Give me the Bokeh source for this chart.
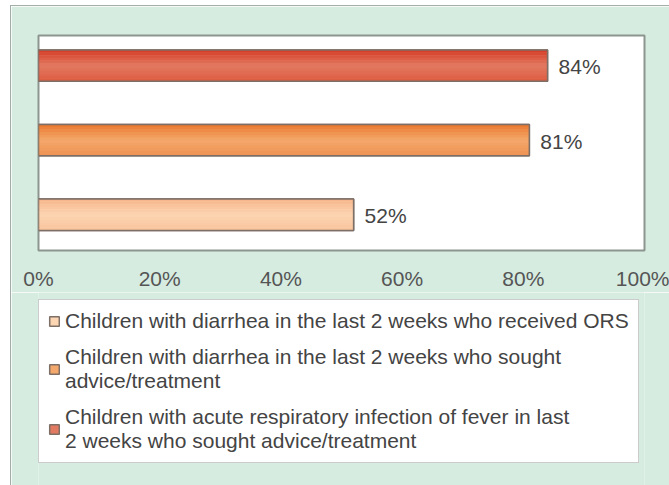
from bokeh.plotting import figure
from bokeh.models import ColumnDataSource, Legend, LegendItem, FixedTicker
from bokeh.layouts import column
from bokeh.core.properties import value
from bokeh.embed import file_html
from bokeh.resources import INLINE

# ---------------- data ----------------
categories = [
    "Children with diarrhea in the last 2 weeks who received ORS",
    "Children with diarrhea in the last 2 weeks who sought\nadvice/treatment",
    "Children with acute respiratory infection of fever in last\n2 weeks who sought advice/treatment",
]
values = [52, 81, 84]
bar_labels = ["52%", "81%", "84%"]
x_ticks = [0, 20, 40, 60, 80, 100]
x_tick_labels = ["0%", "20%", "40%", "60%", "80%", "100%"]

# ---------------- style ----------------
FONT = "Liberation Sans"
FS = "21px"
BG = "#d6ece1"
# (top, middle, bottom) gradient colours per series
grad = [
    ("#f6b488", "#fcd5b2", "#f8c49c"),
    ("#ea772c", "#f4a86c", "#ee9152"),
    ("#d53a24", "#e27a62", "#dc5a3e"),
]
BAR_H = 0.42
N_STRIPES = 12
BAR_LINE = "#7d6e66"

def hex2rgb(h):
    h = h.lstrip("#")
    return tuple(int(h[i:i + 2], 16) for i in (0, 2, 4))

def mix(a, b, t):
    ra, rb = hex2rgb(a), hex2rgb(b)
    return "#%02x%02x%02x" % tuple(int(round(ra[i] + (rb[i] - ra[i]) * t)) for i in range(3))

# ---------------- bar chart ----------------
p = figure(width=658, height=286, output_backend="svg", toolbar_location=None,
           x_range=(0, 100), y_range=(-0.48, 2.405),
           x_axis_location="below", y_axis_location=None,
           min_border_left=27, min_border_right=25, min_border_top=29,
           min_border_bottom=36)
p.background_fill_color = "white"
p.border_fill_color = BG
p.outline_line_color = "#8c9590"
p.outline_line_width = 2
p.xgrid.visible = False
p.ygrid.visible = False

ax = p.xaxis[0]
ax.ticker = FixedTicker(ticks=x_ticks)
ax.major_label_overrides = {t: l for t, l in zip(x_ticks, x_tick_labels)}
ax.axis_line_color = None
ax.major_tick_line_color = None
ax.minor_tick_line_color = None
ax.major_label_standoff = 10
ax.major_label_text_font = FONT
ax.major_label_text_font_size = FS
ax.major_label_text_color = "#555555"

# ---------------- legend panel ----------------
pl = figure(width=658, height=193, output_backend="svg", toolbar_location=None,
            x_range=(0, 100), y_range=(0, 1),
            x_axis_location=None, y_axis_location=None,
            min_border=0)
pl.background_fill_color = BG
pl.border_fill_color = BG
pl.outline_line_color = None
pl.xgrid.visible = False
pl.ygrid.visible = False

items = []
for i, (cat, v, lab) in enumerate(zip(categories, values, bar_labels)):
    src = ColumnDataSource(dict(y=[i], right=[v], label=[lab]))
    top_c, mid_c, bot_c = grad[i]
    p.hbar(y="y", right="right", left=0, height=BAR_H, source=src,
           fill_color=mid_c, line_color=BAR_LINE, line_width=1.5)
    # gradient stripes
    for k in range(N_STRIPES):
        t = (k + 0.5) / N_STRIPES  # 0 = top, 1 = bottom
        if t < 0.5:
            c = mix(top_c, mid_c, t / 0.5)
        else:
            c = mix(mid_c, bot_c, (t - 0.5) / 0.5)
        off = BAR_H / 2 - (k + 0.5) * BAR_H / N_STRIPES
        s = ColumnDataSource(dict(y=[i + off], right=[v]))
        p.hbar(y="y", right="right", left=0, height=BAR_H / N_STRIPES * 1.05,
               source=s, fill_color=c, line_color=None)
    p.hbar(y="y", right="right", left=0, height=BAR_H, source=src,
           fill_color=None, line_color=BAR_LINE, line_width=1.5)
    p.text(x="right", y="y", text="label", source=src, x_offset=11, y_offset=1,
           text_font=value(FONT), text_font_size=FS, text_color="#444444",
           text_baseline="middle", text_align="left")
    # legend swatch renderer (a NaN row: draws nothing in the legend panel)
    swatch = ColumnDataSource(dict(y=[float("nan")], right=[float("nan")]))
    r = pl.hbar(y="y", right="right", left=0, height=BAR_H, source=swatch,
                fill_color=mid_c, line_color=BAR_LINE, line_width=1.5)
    items.append(LegendItem(label=cat, renderers=[r]))

legend = Legend(items=items, location=(0, 22), orientation="vertical",
                label_text_font=FONT, label_text_font_size=FS,
                label_text_color="#444444", label_standoff=5,
                glyph_width=12, glyph_height=12, padding=9, spacing=12,
                border_line_color="#9a9a9a", border_line_width=1,
                background_fill_color="white", background_fill_alpha=1.0,
                margin=0)
pl.add_layout(legend, "center")

layout = column(p, pl, spacing=0)
layout.margin = (6, 0, 0, 11)
layout.styles = {"outline": "1px solid #a3aea9"}
open("out.html", "w").write(file_html(layout, INLINE))
